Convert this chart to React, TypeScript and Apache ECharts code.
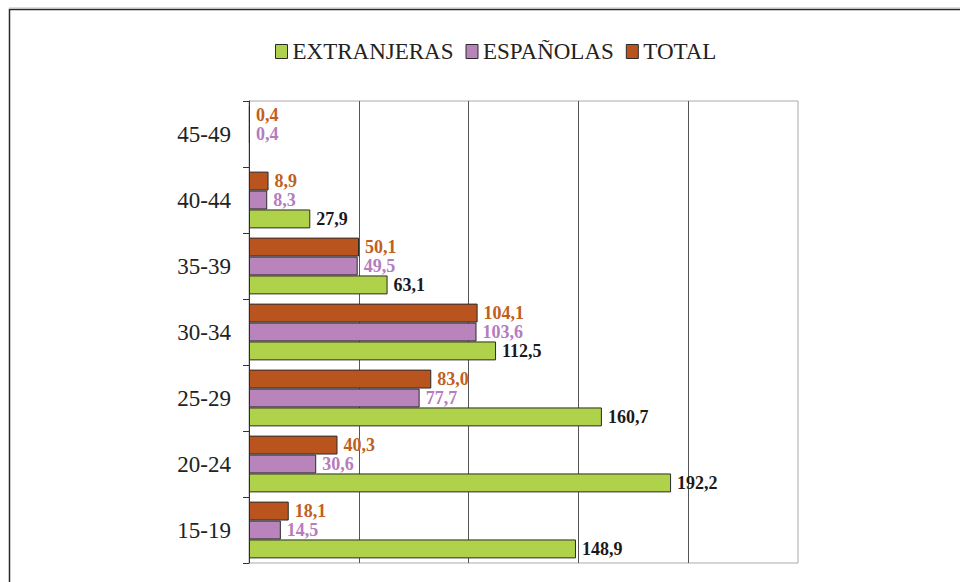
import React, { useEffect, useRef } from "react";
import * as echarts from "echarts";

const categories = ["15-19", "20-24", "25-29", "30-34", "35-39", "40-44", "45-49"];
const extranjeras: (number | null)[] = [148.9, 192.2, 160.7, 112.5, 63.1, 27.9, null];
const espanolas = [14.5, 30.6, 77.7, 103.6, 49.5, 8.3, 0.4];
const total = [18.1, 40.3, 83.0, 104.1, 50.1, 8.9, 0.4];
const seriesNames = ["EXTRANJERAS", "ESPAÑOLAS", "TOTAL"];

const FONT = "Liberation Serif";

const fmt = (p: any) =>
  p.value == null ? "" : Number(p.value).toFixed(1).replace(".", ",");

export default function App() {
  const ref = useRef<HTMLDivElement>(null);
  useEffect(() => {
    if (!ref.current) return;
    const chart = echarts.init(ref.current, null, { renderer: "svg" });
    const mk = (name: string, data: (number | null)[], color: string, labelColor: string) => ({
      name,
      type: "bar",
      data,
      barGap: "0%",
      barCategoryGap: "14%",
      itemStyle: { color, borderColor: "#2b2b2b", borderWidth: 1 },
      label: {
        show: true,
        position: "right",
        distance: 6,
        formatter: fmt,
        color: labelColor,
        fontFamily: FONT,
        fontWeight: "bold",
        fontSize: 18,
      },
    });
    chart.setOption({
      animation: false,
      backgroundColor: "#ffffff",
      textStyle: { fontFamily: FONT },
      legend: {
        left: 270,
        top: 35,
        itemWidth: 12,
        itemHeight: 14,
        itemGap: 12,
        icon: "rect",
        selectedMode: false,
        textStyle: { fontFamily: FONT, fontSize: 23, color: "#222" },
        data: seriesNames.map((n) => ({
          name: n,
          itemStyle: { borderColor: "#2b2b2b", borderWidth: 1 },
        })),
      },
      grid: {
        left: 249,
        top: 101,
        right: 162,
        bottom: 19,
        show: true,
        borderColor: "#aaaaaa",
        borderWidth: 1,
        backgroundColor: "transparent",
      },
      xAxis: {
        type: "value",
        min: 0,
        max: 250,
        interval: 50,
        axisLabel: { show: false },
        axisLine: { show: false },
        axisTick: { show: false },
        splitLine: { show: true, showMaxLine: false, lineStyle: { color: "#555", width: 1 } },
      },
      yAxis: {
        type: "category",
        data: categories,
        axisLine: { show: true, lineStyle: { color: "#333", width: 1 } },
        axisTick: { show: true, length: 6, lineStyle: { color: "#333" } },
        axisLabel: { fontFamily: FONT, fontSize: 23, color: "#222", margin: 18 },
      },
      series: [
        mk(seriesNames[2], total, "#b9541e", "#c0601e"),
        mk(seriesNames[1], espanolas, "#b984bb", "#b57cc0"),
        mk(seriesNames[0], extranjeras, "#b0d14a", "#1a1a1a"),
      ],
      graphic: [
        {
          type: "rect",
          shape: { x: 9.5, y: 9.5, width: 1000, height: 700 },
          style: { fill: "none", stroke: "#2a2a2a", lineWidth: 1.5 },
          silent: true,
        },
        {
          type: "line",
          shape: { x1: 9, y1: 8, x2: 960, y2: 8 },
          style: { stroke: "#bbbbbb", lineWidth: 1 },
          silent: true,
        },
      ],
    });
    return () => chart.dispose();
  }, []);
  return <div ref={ref} style={{ width: 960, height: 582, position: "absolute", left: 0, top: 0 }} />;
}
